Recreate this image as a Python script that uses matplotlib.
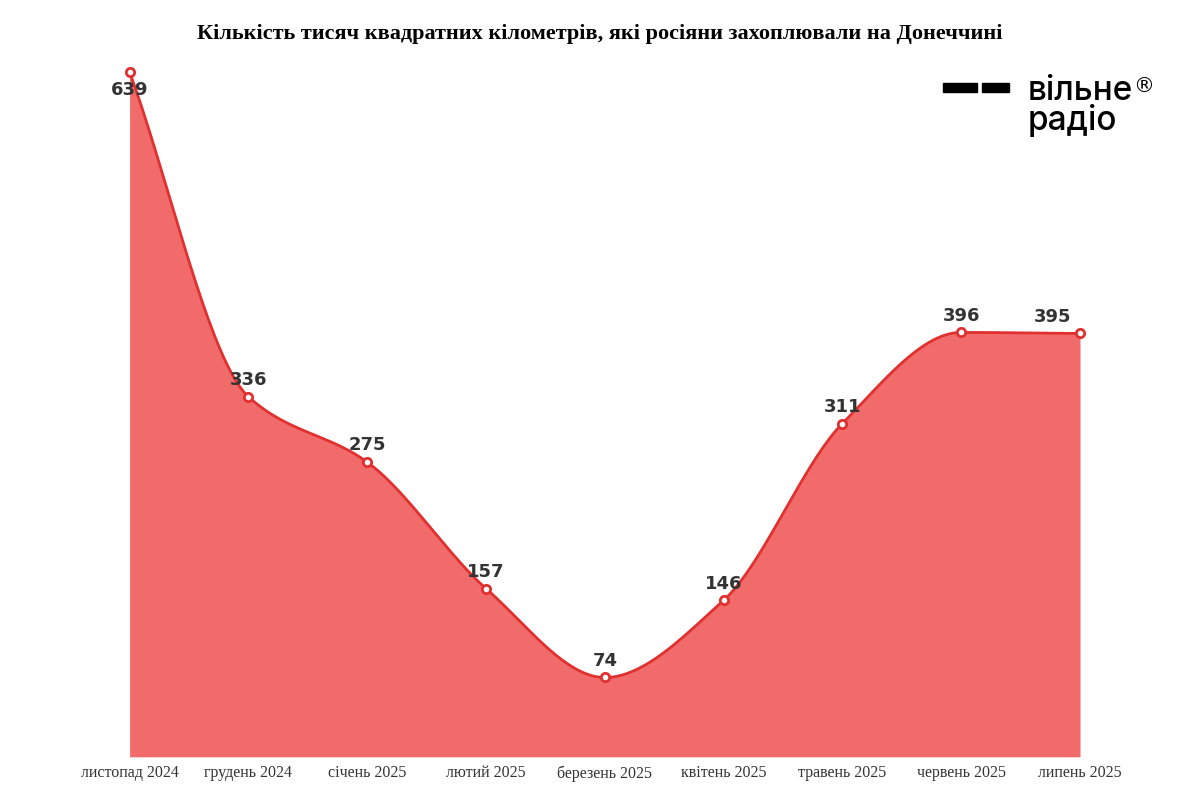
import numpy as np
import matplotlib.pyplot as plt

months = ['листопад 2024', 'грудень 2024', 'січень 2025', 'лютий 2025', 'березень 2025',
          'квітень 2025', 'травень 2025', 'червень 2025', 'липень 2025']
values = [639, 336, 275, 157, 74, 146, 311, 396, 395]
title = 'Кількість тисяч квадратних кілометрів, які росіяни захоплювали на Донеччині'


def monotone_curve(x, y, n=40):
    # Fritsch-Carlson monotone cubic, only used to draw the smooth line
    x = np.asarray(x, float)
    y = np.asarray(y, float)
    h = np.diff(x)
    d = np.diff(y) / h
    m = np.zeros_like(y)
    m[0], m[-1] = d[0], d[-1]
    for i in range(1, len(y) - 1):
        if d[i - 1] * d[i] > 0:
            m[i] = 2 / (1 / d[i - 1] + 1 / d[i])
    xs, ys = [], []
    for i in range(len(h)):
        t = np.linspace(0, 1, n)
        h00 = 2 * t**3 - 3 * t**2 + 1
        h10 = t**3 - 2 * t**2 + t
        h01 = -2 * t**3 + 3 * t**2
        h11 = t**3 - t**2
        xs.append(x[i] + t * h[i])
        ys.append(h00 * y[i] + h10 * h[i] * m[i] + h01 * y[i + 1] + h11 * h[i] * m[i + 1])
    return np.concatenate(xs), np.concatenate(ys)


x = np.arange(len(values))
xs, ys = monotone_curve(x, values)

fig = plt.figure(figsize=(12, 8), dpi=100)
ax = fig.add_axes([0.108, 0.054, 0.792, 0.856])
ax.fill_between(xs, ys, 0, color='#f26b6b', lw=0)
ax.plot(xs, ys, color='#e03030', lw=2, clip_on=False)
ax.plot(x, values, 'o', ms=6, mfc='white', mec='#e03030', mew=2, clip_on=False, zorder=5)
for xi, v in zip(x, values):
    dy = -13 if xi == 0 else 12
    dx = -20 if xi == len(values) - 1 else 0
    ax.annotate(str(v), (xi, v), xytext=(dx, dy), textcoords='offset points',
                ha='center', va='center', fontsize=13, fontweight='bold', color='#333333')
ax.set_xlim(0, len(values) - 1)
ax.set_ylim(0, 639)
ax.set_xticks(x)
ax.set_xticklabels(months, fontsize=11.5, family='Liberation Serif', color='#333333')
ax.tick_params(length=0, pad=6)
ax.set_yticks([])
for s in ax.spines.values():
    s.set_visible(False)
fig.text(0.5, 0.958, title, ha='center', va='center', fontsize=16, fontweight='bold',
         family='Liberation Serif')

# logo
fig.patches.append(plt.Rectangle((0.786, 0.885), 0.028, 0.011, transform=fig.transFigure,
                                 color='black'))
fig.patches.append(plt.Rectangle((0.818, 0.885), 0.023, 0.011, transform=fig.transFigure,
                                 color='black'))
fig.text(0.856, 0.886, 'вільне', fontsize=24, family='Inter', fontweight='medium', va='center')
fig.text(0.856, 0.849, 'радіо', fontsize=24, family='Inter', fontweight='medium', va='center')
fig.text(0.944, 0.893, '®', fontsize=15, family='DejaVu Sans', va='center')

fig.savefig('out.png')
